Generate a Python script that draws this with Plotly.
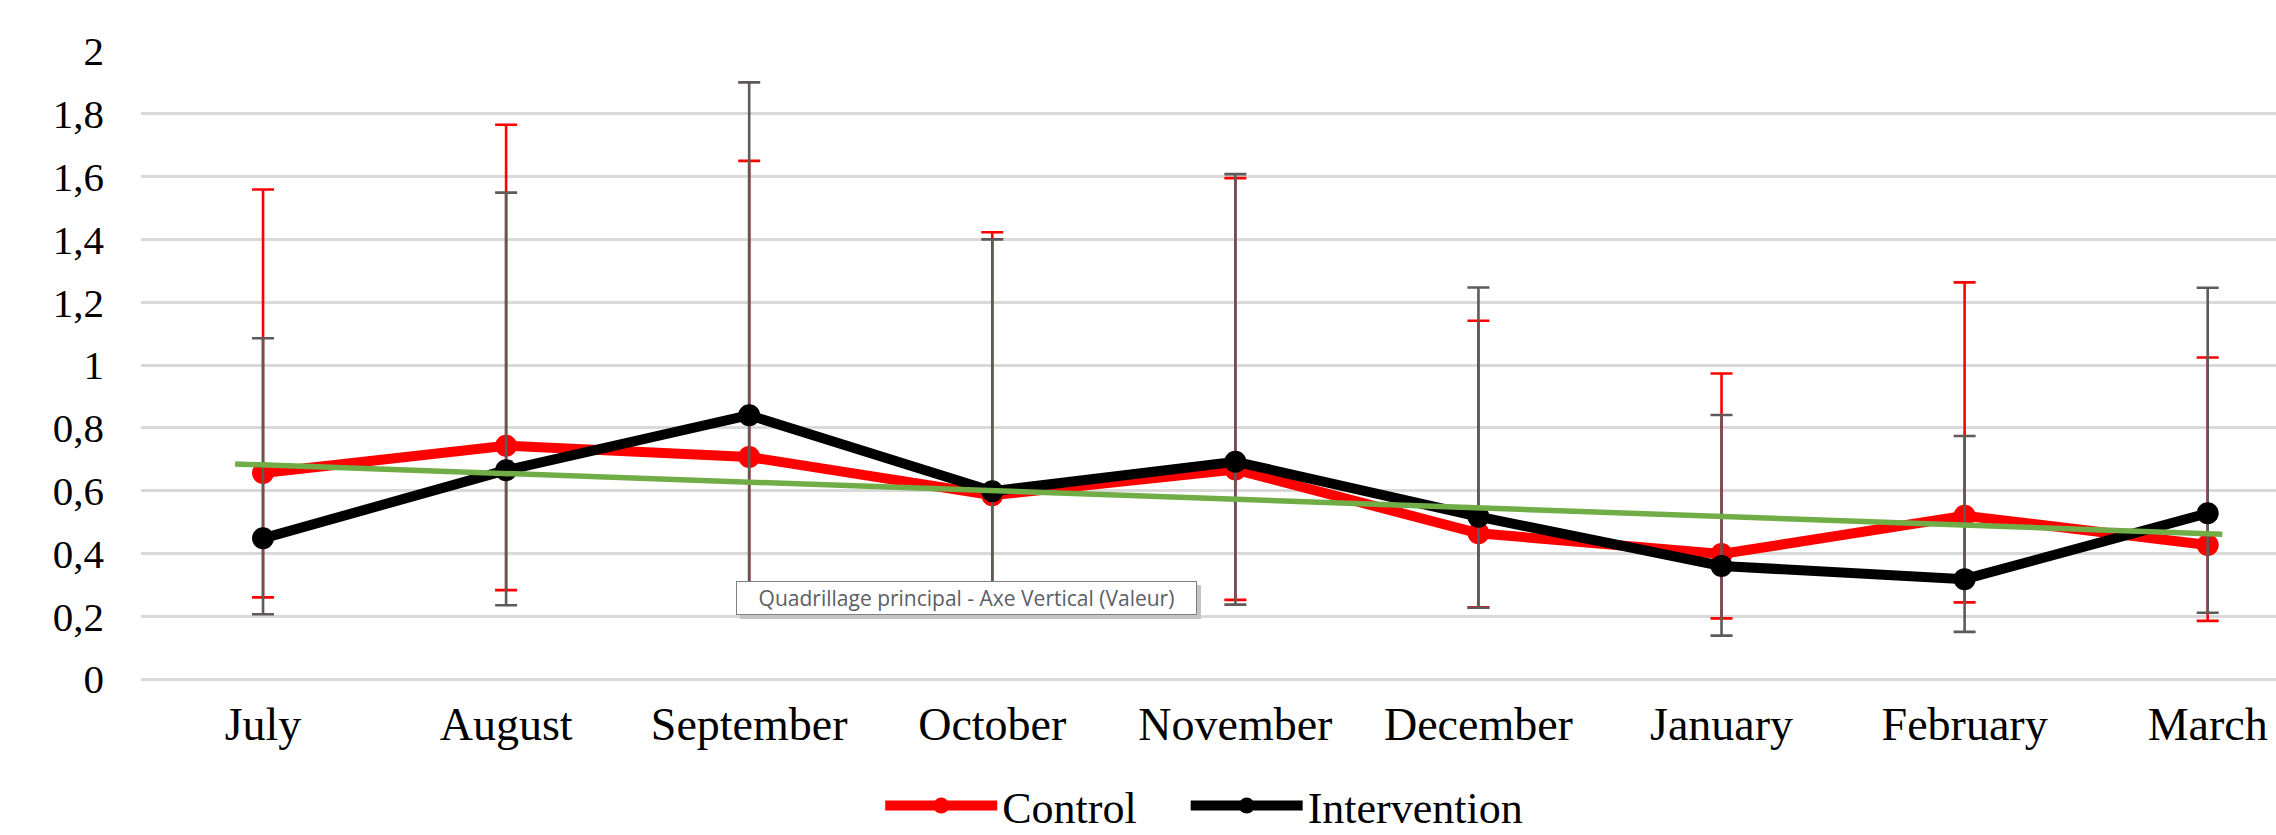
import plotly.graph_objects as go

# Monthly means with lower/upper error limits
months = ["July", "August", "September", "October", "November",
          "December", "January", "February", "March"]

control = [0.656, 0.743, 0.707, 0.585, 0.667, 0.464, 0.398, 0.520, 0.427]
control_upper = [1.559, 1.765, 1.650, 1.423, 1.595, 1.141, 0.973, 1.263, 1.024]
control_lower = [0.260, 0.283, 0.250, 0.250, 0.252, 0.228, 0.193, 0.244, 0.185]

intervention = [0.448, 0.665, 0.840, 0.598, 0.692, 0.517, 0.360, 0.318, 0.528]
intervention_upper = [1.085, 1.549, 1.900, 1.400, 1.608, 1.247, 0.841, 0.774, 1.246]
intervention_lower = [0.206, 0.235, 0.230, 0.220, 0.237, 0.227, 0.138, 0.150, 0.211]

# Linear trend line (start / end points, in category units)
trend_x = [-0.115, 8.06]
trend_y = [0.685, 0.461]

y_ticks = [0, 0.2, 0.4, 0.6, 0.8, 1, 1.2, 1.4, 1.6, 1.8, 2]
y_tick_text = ["0", "0,2", "0,4", "0,6", "0,8", "1", "1,2", "1,4", "1,6", "1,8", "2"]

SERIF = "Liberation Serif, Times New Roman, serif"
NBSP = "\u00a0"
x_pos = list(range(len(months)))

fig = go.Figure()

fig.add_trace(go.Scatter(
    x=x_pos, y=control, name="Control" + NBSP * 4, mode="lines+markers",
    line=dict(color="#ff0000", width=10),
    marker=dict(color="#ff0000", size=22),
    error_y=dict(type="data", symmetric=False,
                 array=[u - v for u, v in zip(control_upper, control)],
                 arrayminus=[v - l for v, l in zip(control, control_lower)],
                 color="#ff0000", thickness=2.6, width=11),
))

fig.add_trace(go.Scatter(
    x=x_pos, y=intervention, name="Intervention", mode="lines+markers",
    line=dict(color="#000000", width=10),
    marker=dict(color="#000000", size=22),
    error_y=dict(type="data", symmetric=False,
                 array=[u - v for u, v in zip(intervention_upper, intervention)],
                 arrayminus=[v - l for v, l in zip(intervention, intervention_lower)],
                 color="#5f5959", thickness=2.6, width=11),
))

fig.add_trace(go.Scatter(
    x=trend_x, y=trend_y, mode="lines", showlegend=False,
    line=dict(color="#70ad47", width=5.5), hoverinfo="skip",
))

# Grid-line tooltip box with a soft drop shadow
tip_text = "Quadrillage principal - Axe Vertical (Valeur)"
for shadow in (True, False):
    fig.add_annotation(
        xref="paper", yref="paper", x=0.2787, y=0.1298,
        xanchor="left", yanchor="middle", showarrow=False,
        text=tip_text, width=455, align="center", borderpad=2,
        xshift=4 if shadow else 0, yshift=-4 if shadow else 0,
        bgcolor="#c4c4c4" if shadow else "#ffffff",
        bordercolor="#c4c4c4" if shadow else "#808080", borderwidth=1,
        font=dict(family="Open Sans, sans-serif", size=21,
                  color="#c4c4c4" if shadow else "#5b5e66"),
    )

fig.update_layout(
    width=2276, height=835,
    margin=dict(l=141, r=0, t=50, b=155, autoexpand=False),
    paper_bgcolor="#ffffff", plot_bgcolor="#ffffff",
    separators=", ",
    font=dict(family=SERIF, size=46, color="#000000"),
    showlegend=True,
    legend=dict(orientation="h", x=0.498, y=-0.200, xanchor="center",
                yanchor="middle", itemwidth=112,
                font=dict(family=SERIF, size=44, color="#000000")),
    xaxis=dict(range=[-0.502, 8.281], tickvals=x_pos, ticktext=months,
               showgrid=False, zeroline=False, showline=False, ticks="",
               ticklabelstandoff=13, automargin=False,
               tickfont=dict(family=SERIF, size=46, color="#000000")),
    yaxis=dict(range=[-0.0032, 2.0032], tickvals=y_ticks, ticktext=y_tick_text,
               showgrid=True, gridcolor="#d9d9d9", gridwidth=2.5,
               zeroline=True, zerolinecolor="#d9d9d9", zerolinewidth=2.5,
               showline=False, ticks="", ticklabelstandoff=36, automargin=False,
               tickfont=dict(family=SERIF, size=41, color="#000000")),
)

fig.write_html("out.html")
